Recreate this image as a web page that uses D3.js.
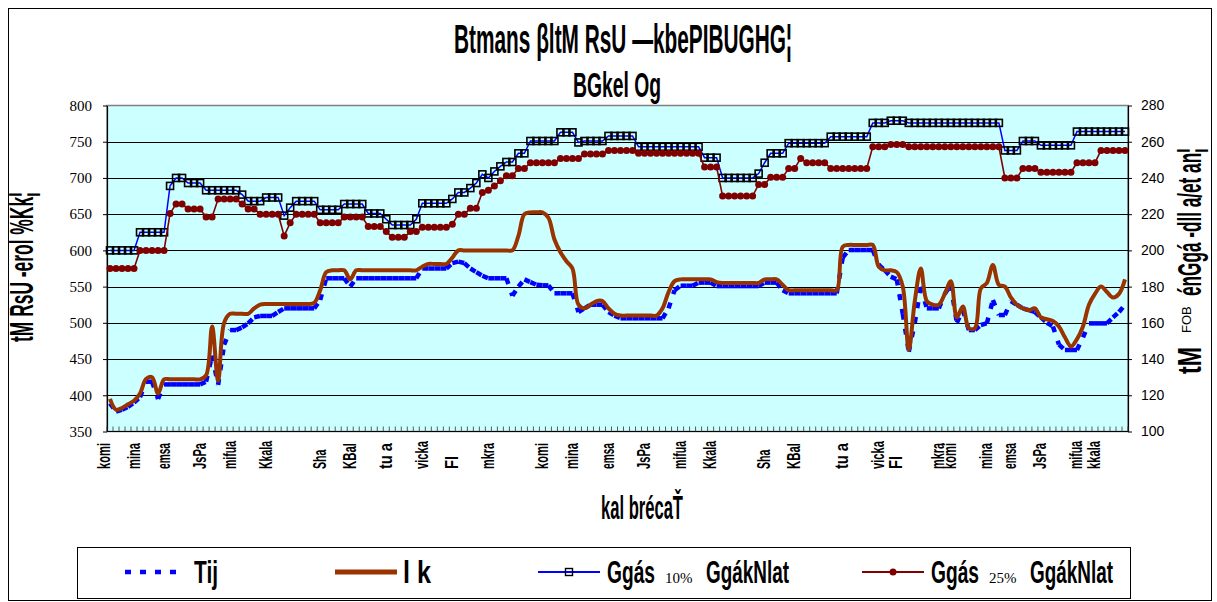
<!DOCTYPE html>
<html>
<head>
<meta charset="utf-8">
<script src="https://cdn.jsdelivr.net/npm/d3@7"></script>
<style>
  body { margin: 0; background: #fff; }
  svg text { fill: #000; }
</style>
</head>
<body>
<svg id="chart" width="1217" height="602"></svg>
<script>
// ---------------- Data ----------------

// Title, axis titles and legend texts
const titleLines = ["Btmans βltM RsU  —kbePIBUGHG¦", "BGkel Og"];
const leftTitle = "tM RsU -erol %Kk¦";
const rightTitle = ["tM", "FOB", "énGgá -dll a/et an¦"];
const xTitle = "kal brécaŤ";
const seriesNames = ["Tij", "l k", "Ggás|10%|GgákNlat", "Ggás|25%|GgákNlat"];

// Tick labels of the two value axes
const leftTicks = [350, 400, 450, 500, 550, 600, 650, 700, 750, 800];
const rightTicks = [100, 120, 140, 160, 180, 200, 220, 240, 260, 280];

// Month labels of the category axis and the category they sit on
const monthLabels = ["komi", "mina", "emsa", "JsPa", "mifua", "Kkala", "Sha", "KBal", "tu a", "vicka", "Fl", "mkra",
                     "komi", "mina", "emsa", "JsPa", "mifua", "Kkala", "Sha", "KBal", "tu a", "vicka", "Fl", "mkra",
                     "komi", "mina", "emsa", "JsPa", "mifua", "kkala"];
const monthIndex = [0, 5, 10, 16, 21, 27, 36, 41, 47, 53, 58, 64,
                    73, 78, 84, 90, 96, 101, 110, 115, 123, 129, 132, 139,
                    141, 147, 151, 156, 162, 165];

// Step series on the left axis
const step10 = [600,600,600,600,600, 625,625,625,625,625, 689, 700,700, 693,693,693,
  683,683,683,683,683,683, 677, 668,668,668, 673,673,673, 648, 659, 668,668,668,668,
  656,656,656,656, 664,664,664,664, 651,651,651, 643, 635,635,635,635, 643,
  665,665,665,665,665, 671, 680,680, 686, 693, 705, 700, 709, 716, 722,722, 734,734,
  751,751,751,751,751, 763,763,763, 749, 751,751,751,751, 758,758,758,758,758,
  743,743,743,743,743,743,743,743,743,743,743, 728,728,728, 700,700,700,700,700,700,
  706, 721, 734,734,734, 748,748,748,748,748,748,748, 757,757,757,757,757,757,757,
  776,776,776, 779,779,779, 776,776,776,776,776,776,776,776,776,776,776,776,776,776,776,776,
  738,738,738, 751,751,751, 745,745,745,745,745,745, 764,764,764,764,764,764,764,764,764];

const step25 = [575,575,575,575,575, 600,600,600,600,600, 651, 664,664, 657,657,657,
  646,646, 671,671,671,671, 664, 657,657, 650,650,650,650, 620, 638, 650,650,650,650,
  638,638,638,638, 646,646,646,646, 633,633,633, 626, 618,618,618, 626,626,
  632,632,632,632,632, 636, 650,650, 658,658, 680, 683, 689, 696, 703,703, 713,713,
  721,721,721,721,721, 727,727,727,727, 733,733,733,733, 738,738,738,738,738,
  734,734,734,734,734,734,734,734,734,734,734, 715,715,715, 675,675,675,675,675,675,
  691,691, 701,701,701, 713,713, 727, 721,721,721,721, 713,713,713,713,713,713,713,
  743,743,743, 746,746,746, 743,743,743,743,743,743,743,743,743,743,743,743,743,743,743,743,
  700,700,700, 713,713,713, 708,708,708,708,708,708, 721,721,721,721, 738,738,738,738,738];

// Price series on the right axis
const tij = [115.5,111,112,113.5,116,119,127.5,127.5,118,126, 126,126,126,126,126,126,127.5,142,125.7,148,
  156,156,157.5,159.7,163,163.8,163.8,163.8,166,168, 168,168,168,168,168,172.6,184.6,184.6,184.6,184.6,
  180,184.6,184.6,184.6,184.6,184.6,184.6,184.6,184.6,184.6, 184.6,184.6,190,190,190,190,190,193,193.8,193,
  190,188,186,184.6,184.6,184.6,184.6,175,180,184, 182.5,181,180.7,180.7,176.3,176.3,176.3,176.3,166,168,
  170,170,170,166,164,162.5,162.5,162.5,162.5,162.5, 162.5,162.5,162.5,168,178,180.5,180.5,180.5,182.2,182.2,
  182.2,180.3,180.3,180.3,180.3,180.3,180.3,180.3,180.3,182.2, 182.2,182.2,178,176.3,176.3,176.3,176.3,176.3,176.3,176.3,
  176.3,176.3,196,200.2,200.2,200.2,200.2,200.2,192,189, 185.5,184,165,144,160,180,168,168,168,176,
  181,160,167,156,156,158.8,159.7,172.6,164.3,164.3, 172,170,168,167,166,163,160,158,148,145,
  145,145,152,159.7,159.7,159.7,159.7,163,166,170];

const lk = [118,112,113,115,117,121,129,130,121,128.8, 128.8,128.8,128.8,128.8,128.8,128.8,131,158,128,160,
  165,165,165,165,168,170,170.4,170.4,170.4,170.4, 170.4,170.4,170.4,170.4,171,178,188,189,189,189,
  184,189,189,189,189,189,189,189,189,189, 189,189,191,192.5,192.5,192.5,192.5,196,200,200,
  200,200,200,200,200,200,200,200,208,220, 221,221,221,218,206,199,194,190,170,168,
  170,172,172,168,165,164,164,164,164,164, 164,164,168,177,183,184,184,184,184,184,
  184,182.5,182,182,182,182,182,182,182,184, 184,184,181,178,178,178,178,178,178,178,
  178,178,202,203,203,203,203,203,191,189, 189,188,180,145,172,190,172,170,170,176,
  183,163,169,157,157,179,182,192,181,180, 174,170,168,167,168,163,162,161,158,152,
  147,151,158,170,176,180,177,174,176,184];

// ---------------- Chart ----------------

const NARROW = "'Liberation Sans Narrow','Arial Narrow','Liberation Sans',Arial,sans-serif";
const svg = d3.select("#chart");
const plot = { left: 107, right: 1128, top: 105.5, bottom: 431.5 };

const x = d3.scalePoint().domain(d3.range(step10.length))
  .range([plot.left, plot.right]).padding(0.5);
const yL = d3.scaleLinear().domain([350, 800]).range([plot.bottom, plot.top]);
const yR = d3.scaleLinear().domain([100, 280]).range([plot.bottom, plot.top]);

// Add a tall condensed text: written in a normal font, then squeezed to a
// given width (the source used a very narrow typeface)
function narrowText(parent, str, size, px, py, width, rotate) {
  const t = parent.append("text")
    .style("font", `bold ${size}px ${NARROW}`)
    .text(str);
  const w = t.node().getComputedTextLength() || width;
  t.attr("transform", `translate(${px},${py})${rotate ? " rotate(-90)" : ""} scale(${width / w},1)`);
  return t;
}

// Outer frame of the chart
svg.append("rect").attr("x", 8.5).attr("y", 8.5).attr("width", 1203).attr("height", 592)
  .attr("fill", "#fff").attr("stroke", "#000");

// Plot area background
svg.append("rect").attr("x", plot.left).attr("y", plot.top)
  .attr("width", plot.right - plot.left).attr("height", plot.bottom - plot.top)
  .attr("fill", "#ccffff").attr("stroke", "#808080").attr("stroke-width", 1.5);

// Horizontal grid lines
svg.append("g").selectAll("line").data(leftTicks.slice(1, -1)).join("line")
  .attr("x1", plot.left).attr("x2", plot.right)
  .attr("y1", d => Math.round(yL(d)) + 0.5).attr("y2", d => Math.round(yL(d)) + 0.5)
  .attr("stroke", "#000");

// Value axes
const axL = svg.append("g").attr("transform", `translate(${plot.left},0)`)
  .call(d3.axisLeft(yL).tickValues(leftTicks).tickSize(4).tickSizeOuter(0));
axL.selectAll("text").attr("x", -15)
  .style("font", "15px 'Liberation Serif','Times New Roman',serif");
const axR = svg.append("g").attr("transform", `translate(${plot.right},0)`)
  .call(d3.axisRight(yR).tickValues(rightTicks).tickSize(4).tickSizeOuter(0));
axR.selectAll("text").attr("x", 13)
  .style("font", "14px 'Liberation Sans',Arial,sans-serif");
svg.selectAll(".domain").attr("stroke", "#000").attr("stroke-width", 1.2);

// Category axis line and ticks between categories
const stepW = x.step();
svg.append("line").attr("x1", plot.left).attr("x2", plot.right)
  .attr("y1", plot.bottom).attr("y2", plot.bottom).attr("stroke", "#000").attr("stroke-width", 1.2);
svg.append("g").selectAll("line").data(d3.range(step10.length + 1)).join("line")
  .attr("x1", i => plot.left + i * stepW).attr("x2", i => plot.left + i * stepW)
  .attr("y1", plot.bottom - 5).attr("y2", plot.bottom)
  .attr("stroke", "#333").attr("stroke-width", 0.8);

// Month labels, rotated
const months = svg.append("g");
monthLabels.forEach((d, k) => {
  narrowText(months, d, 19, x(monthIndex[k]) - 0.5, 469, Math.min(28, 6.5 * d.length), true);
});

// ---- price lines (right axis) ----
// dashed blue line, dash pattern starts again at every point like the source
const tijPts = tij.map((v, i) => [x(i), yR(v)]);
svg.append("g").selectAll("line").data(d3.pairs(tijPts)).join("line")
  .attr("x1", d => d[0][0]).attr("y1", d => d[0][1])
  .attr("x2", d => d[1][0]).attr("y2", d => d[1][1])
  .attr("stroke", "#0000ff").attr("stroke-width", 4.5).attr("stroke-dasharray", "6,9");

svg.append("path").datum(lk)
  .attr("d", d3.line().x((v, i) => x(i)).y(v => yR(v)).curve(d3.curveCatmullRom.alpha(0.5)))
  .attr("fill", "none").attr("stroke", "#993300").attr("stroke-width", 4);

// ---- step series (left axis) ----
const lineL = d3.line().x((v, i) => x(i)).y(v => yL(v));

svg.append("path").datum(step10).attr("d", lineL)
  .attr("fill", "none").attr("stroke", "#0000ff").attr("stroke-width", 1.5);
svg.append("g").selectAll("rect").data(step10).join("rect")
  .attr("x", (v, i) => x(i) - 3.5).attr("y", v => yL(v) - 3.5)
  .attr("width", 7).attr("height", 7)
  .attr("fill", "none").attr("stroke", "#000").attr("stroke-width", 1.6);

svg.append("path").datum(step25).attr("d", lineL)
  .attr("fill", "none").attr("stroke", "#800000").attr("stroke-width", 1.6);
svg.append("g").selectAll("circle").data(step25).join("circle")
  .attr("cx", (v, i) => x(i)).attr("cy", v => yL(v)).attr("r", 3.5)
  .attr("fill", "#800000");

// ---- titles ----
narrowText(svg, titleLines[0], 40, 454, 53, 338);
narrowText(svg, titleLines[1], 36, 573, 97, 88);
narrowText(svg, xTitle, 34, 601, 519, 82);
narrowText(svg, leftTitle, 34, 33, 342, 150, true);

const rt = svg.append("g").attr("transform", "translate(1201,374) rotate(-90)");
narrowText(rt, rightTitle[0], 34, 0, 0, 27);
rt.append("text").attr("x", 41).attr("y", -10)
  .style("font", "13px 'Liberation Sans',Arial,sans-serif").text(rightTitle[1]);
narrowText(rt, rightTitle[2], 34, 78, 0, 148);

// ---- legend ----
const lg = svg.append("g");
lg.append("rect").attr("x", 77.5).attr("y", 547.5).attr("width", 1053).attr("height", 51)
  .attr("fill", "#fff").attr("stroke", "#000");
const ly = 572, lt = 583;

lg.append("line").attr("x1", 125).attr("x2", 184).attr("y1", ly).attr("y2", ly)
  .attr("stroke", "#0000ff").attr("stroke-width", 4.5).attr("stroke-dasharray", "6,9");
narrowText(lg, seriesNames[0], 31, 194, lt, 24);

lg.append("line").attr("x1", 335).attr("x2", 397).attr("y1", ly).attr("y2", ly)
  .attr("stroke", "#993300").attr("stroke-width", 5);
narrowText(lg, seriesNames[1], 31, 403, lt, 28);

// two-part legend entries with a small serif percentage in the middle
function stepEntry(x0, name, color, marker) {
  const parts = name.split("|");
  lg.append("line").attr("x1", x0).attr("x2", x0 + 62).attr("y1", ly).attr("y2", ly)
    .attr("stroke", color).attr("stroke-width", 1.8);
  if (marker === "square")
    lg.append("rect").attr("x", x0 + 27.5).attr("y", ly - 3.5).attr("width", 7).attr("height", 7)
      .attr("fill", "none").attr("stroke", "#000").attr("stroke-width", 1.4);
  else
    lg.append("circle").attr("cx", x0 + 31).attr("cy", ly).attr("r", 3.5).attr("fill", color);
  narrowText(lg, parts[0], 31, x0 + 69, lt, 48);
  lg.append("text").attr("x", x0 + 127).attr("y", lt)
    .style("font", "15px 'Liberation Serif','Times New Roman',serif").text(parts[1]);
  narrowText(lg, parts[2], 31, x0 + 168, lt, 83);
}
stepEntry(538, seriesNames[2], "#0000ff", "square");
stepEntry(862, seriesNames[3], "#800000", "circle");
</script>
</body>
</html>
